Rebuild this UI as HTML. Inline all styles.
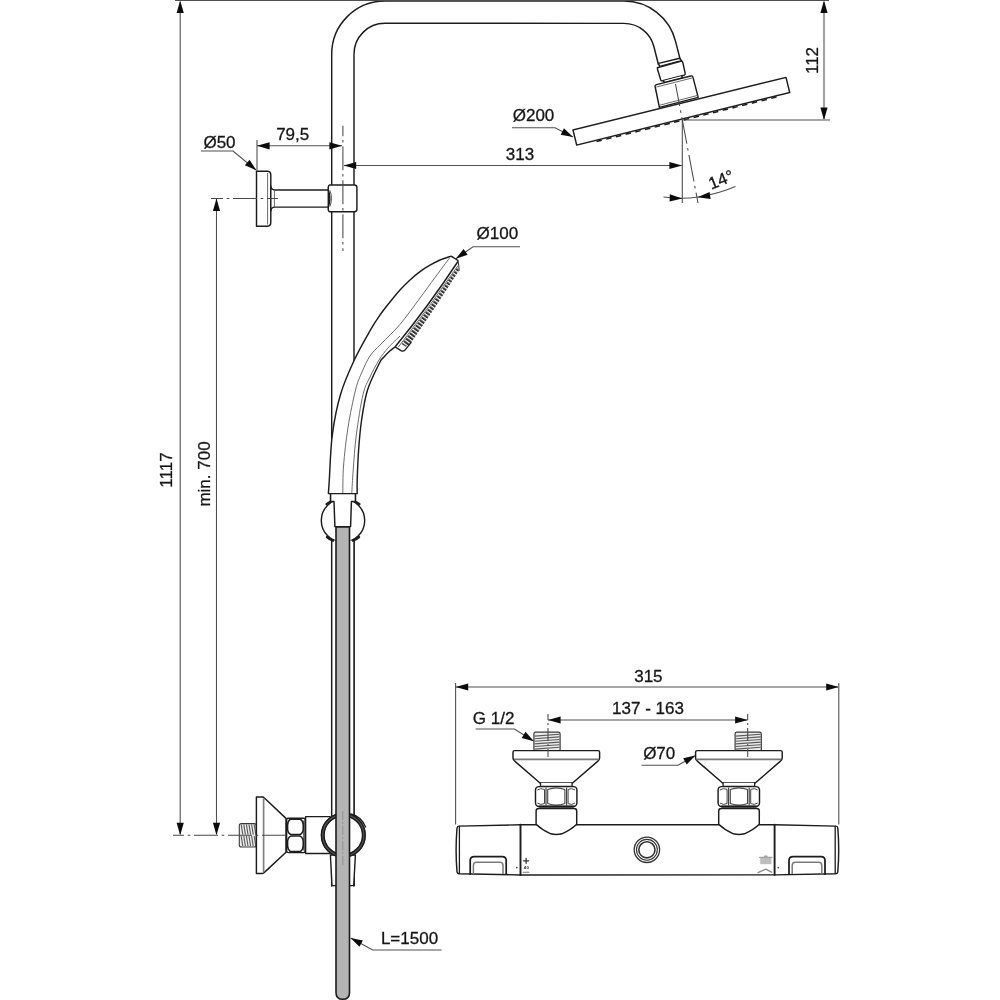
<!DOCTYPE html>
<html lang="en"><head><meta charset="utf-8"><title>Shower system dimensions</title>
<style>
html,body{margin:0;padding:0;background:#fff;}
body{width:1000px;height:1000px;overflow:hidden;}
svg{display:block;filter:blur(0.4px);}
text{font-family:"Liberation Sans",sans-serif;font-size:17px;fill:#161616;stroke:#161616;stroke-width:0.3px;}
.o{fill:none;stroke:#1c1c1c;stroke-width:1.45;stroke-linejoin:round;stroke-linecap:round;}
.f{fill:#fff;}
.d{fill:none;stroke:#505050;stroke-width:1.1;}
.t{fill:none;stroke:#5a5a5a;stroke-width:0.9;}
.c{fill:none;stroke:#484848;stroke-width:1.05;}
</style></head>
<body>
<svg width="1000" height="1000" viewBox="0 0 1000 1000">
<rect width="1000" height="1000" fill="#fff"/>
<path d="M 342.85,886 L 342.85,54.2 A 42 42 0 0 1 384.85,12.2 L 624,12.2 A 42 42 0 0 1 664.75,44.04 L 669.3,62" fill="none" stroke="#1c1c1c" stroke-width="23.75" />
<path d="M 342.85,886 L 342.85,54.2 A 42 42 0 0 1 384.85,12.2 L 624,12.2 A 42 42 0 0 1 664.75,44.04 L 669.3,62" fill="none" stroke="#fff" stroke-width="20.85" />
<path class="o f" d="M658.6,63.4 L679.6,58.2 L681.6,60.8 L659.6,66.4 Z" />
<path class="o f" d="M658,67.6 Q657,67 657.6,69.5 L660.6,79.6 Q661,81.2 662.6,80.8 L684,75.3 Q685.6,74.8 685.2,73.2 L682.8,62.6 Q682.4,60.8 680.6,61.3 Z" />
<path class="o f" d="M663.6,80.8 L664.2,82.6 L682.4,78 L681.8,76" />
<path class="o f" d="M656.6,84.6 Q654.6,85.2 655.2,87 L659.4,107.4 L698.2,97.4 L693,77.4 Q692.6,75.4 690.6,76 Z" />
<path class="t" d="M656.4,87 L692,78" />
<path class="t" d="M659,105.4 L697.6,95.4" />
<g transform="translate(573,130) rotate(-13.87)">
<rect class="o f" x="0" y="0" width="219.4" height="15.5"/>
<line x1="20" y1="16.8" x2="206" y2="16.8" stroke="#1c1c1c" stroke-width="1.5" stroke-dasharray="5.5 4.5"/>
</g>
<path class="o f" d="M256.5,171.3 L267.6,171.3 Q270.8,171.6 270.8,175 L270.8,222.6 Q270.8,226 267.6,226.3 L256.5,226.3 Z" />
<path class="t" d="M267.6,173 L267.6,224.6" />
<path class="o f" d="M270.8,186 Q271.4,189.9 274.6,189.9 L328.3,189.9 L328.3,207.1 L274.6,207.1 Q271.4,207.1 270.8,211 Z" />
<path class="t" d="M274.4,190 L274.4,207" />
<path class="t" d="M329.6,190 Q333.4,198.5 329.6,207" style="stroke:#555;stroke-width:1"/>
<path class="o f" d="M328.3,189.9 Q327.8,186 329.4,185 L354.4,185 Q356.9,185 356.9,187.5 L356.9,209.2 Q356.9,211.7 354.4,211.7 L329.4,211.7 Q327.8,210.8 328.3,207.1 Q331.4,198.5 328.3,189.9 Z" />
<path class="t" d="M329.8,190.4 Q333.2,198.5 329.8,206.6" style="stroke:#555;stroke-width:1"/>
<defs><pattern id="nz" width="3.3" height="24" patternUnits="userSpaceOnUse" patternTransform="rotate(-54) translate(0,0)"><rect width="3.3" height="24" fill="#fff"/><rect x="0" y="0" width="2.1" height="24" fill="#333"/></pattern></defs>
<path class="o f" d="M450.50,256.40 C448.75,257.00 443.42,258.53 440.00,260.00 C436.58,261.47 433.33,263.27 430.00,265.20 C426.67,267.13 423.33,269.13 420.00,271.60 C416.67,274.07 413.33,276.93 410.00,280.00 C406.67,283.07 403.33,286.33 400.00,290.00 C396.67,293.67 393.33,297.83 390.00,302.00 C386.67,306.17 383.30,310.27 380.00,315.00 C376.70,319.73 374.48,322.90 370.20,330.40 C365.92,337.90 359.25,349.32 354.30,360.00 C349.35,370.68 344.17,382.00 340.50,394.50 C336.83,407.00 334.17,420.75 332.30,435.00 C330.43,449.25 329.95,470.23 329.30,480.00 C328.65,489.77 328.55,491.33 328.40,493.60 L357.20,493.60 C357.20,491.33 356.97,487.27 357.20,480.00 C357.43,472.73 357.87,460.00 358.60,450.00 C359.33,440.00 360.12,430.00 361.60,420.00 C363.08,410.00 364.52,399.50 367.50,390.00 C370.48,380.50 376.75,368.50 379.50,363.00 C382.25,357.50 382.28,359.00 384.00,357.00 C385.72,355.00 387.93,352.70 389.80,351.00 C391.67,349.30 394.30,347.50 395.20,346.80 Q428.6,306 457.6,262 Q458.6,260.8 457.2,260 L452,256.6 Q451.2,256.2 450.5,256.4 Z" />
<path class="" d="M457.6,267 L459,270.6 L435,307.4 L409.8,344.4 L405.8,346.8 L401.6,344 L431,305 Z" style="fill:url(#nz);stroke:none"/>
<path class="o" d="M458.4,262.4 L459.2,270.4" style="stroke-width:1.1;stroke:#444"/>
<path class="o" d="M411,342.6 L405.8,349.2 Q403.8,352.2 401,350.6 L395.8,347.4" style="stroke-width:1.3"/>
<path class="t" d="M458,265.6 Q429.6,306.8 398.4,347" style="stroke:#555;stroke-width:0.9"/>
<path class="t" d="M449.80,257.60 C447.33,260.92 439.97,270.77 435.00,277.50 C430.03,284.23 425.83,290.18 420.00,298.00 C414.17,305.82 406.50,316.73 400.00,324.40 C393.50,332.07 386.00,338.73 381.00,344.00 C376.00,349.27 373.17,351.33 370.00,356.00 C366.83,360.67 364.42,366.33 362.00,372.00 C359.58,377.67 357.83,380.75 355.50,390.00 C353.17,399.25 349.98,415.00 348.00,427.50 C346.02,440.00 344.47,454.08 343.60,465.00 C342.73,475.92 342.93,488.33 342.80,493.00 " />
<path class="t" d="M400.00,336.00 C398.00,338.00 391.50,344.00 388.00,348.00 C384.50,352.00 382.00,355.17 379.00,360.00 C376.00,364.83 372.67,371.25 370.00,377.00 C367.33,382.75 365.28,384.83 363.00,394.50 C360.72,404.17 357.93,422.42 356.30,435.00 C354.67,447.58 353.95,460.33 353.20,470.00 C352.45,479.67 352.03,489.17 351.80,493.00 " />
<path class="o f" d="M330.6,493.6 L330.6,501.4 L355.4,501.4 L355.4,493.6" />
<circle class="o f" cx="343" cy="520.5" r="21.7"/>
<path class="o f" d="M329.6,501.4 L334,501.4 L334.9,526.6 L350.6,526.6 L351.4,501.4 L355.4,501.4 L355.4,493.6 L330.6,493.6 L330.6,501.4 Z" />
<rect x="331.7" y="540.5" width="22.3" height="345" fill="#fff" stroke="none"/>
<line class="o" x1="331.7" y1="540" x2="331.7" y2="886" />
<line class="o" x1="354" y1="540" x2="354" y2="886" />
<path class="o" d="M327,537 Q330,539.6 333,540.6" style="stroke-width:2.4"/>
<path class="o" d="M359,537 Q356,539.6 353,540.6" style="stroke-width:2.4"/>
<path class="o" d="M326.6,504.2 Q328.4,502.6 330,502" style="stroke-width:2.3"/>
<path class="o" d="M359.4,504.2 Q357.6,502.6 356,502" style="stroke-width:2.3"/>
<rect x="239.3" y="823.6" width="17" height="23.4" rx="2" fill="#ececec" stroke="#3a3a3a" stroke-width="1.1"/>
<line class="t" x1="241.2" y1="824.4" x2="242.79999999999998" y2="834.6" style="stroke:#5a5a5a;stroke-width:1.1"/>
<line class="t" x1="241.2" y1="836" x2="242.79999999999998" y2="846.2" style="stroke:#5a5a5a;stroke-width:1.1"/>
<line class="t" x1="243.79999999999998" y1="824.4" x2="245.39999999999998" y2="834.6" style="stroke:#5a5a5a;stroke-width:1.1"/>
<line class="t" x1="243.79999999999998" y1="836" x2="245.39999999999998" y2="846.2" style="stroke:#5a5a5a;stroke-width:1.1"/>
<line class="t" x1="246.39999999999998" y1="824.4" x2="247.99999999999997" y2="834.6" style="stroke:#5a5a5a;stroke-width:1.1"/>
<line class="t" x1="246.39999999999998" y1="836" x2="247.99999999999997" y2="846.2" style="stroke:#5a5a5a;stroke-width:1.1"/>
<line class="t" x1="249.0" y1="824.4" x2="250.6" y2="834.6" style="stroke:#5a5a5a;stroke-width:1.1"/>
<line class="t" x1="249.0" y1="836" x2="250.6" y2="846.2" style="stroke:#5a5a5a;stroke-width:1.1"/>
<line class="t" x1="251.6" y1="824.4" x2="253.2" y2="834.6" style="stroke:#5a5a5a;stroke-width:1.1"/>
<line class="t" x1="251.6" y1="836" x2="253.2" y2="846.2" style="stroke:#5a5a5a;stroke-width:1.1"/>
<line class="t" x1="254.2" y1="824.4" x2="255.79999999999998" y2="834.6" style="stroke:#5a5a5a;stroke-width:1.1"/>
<line class="t" x1="254.2" y1="836" x2="255.79999999999998" y2="846.2" style="stroke:#5a5a5a;stroke-width:1.1"/>
<path class="o f" d="M256.4,797 L262.4,797 Q263.6,797 264.4,798 L286,818.4 L286,852.2 L264.4,872.4 Q263.6,873.4 262.4,873.4 L256.4,873.4 Z" />
<line class="t" x1="263.6" y1="798.4" x2="263.6" y2="872.2" style="stroke:#808080;stroke-width:1.7"/>
<rect class="o f" x="286.6" y="818.2" width="18.6" height="34.4" rx="1.5"/>
<rect x="303" y="820.5" width="2.4" height="30" fill="#6a6a6a"/>
<path class="o" d="M290.4,819.2 Q287.6,821.4 287.6,825 L287.6,829 Q287.6,833 290.8,834.5 L300,834.5 Q303.2,833 303.2,829 L303.2,825 Q303.2,821.4 300.4,819.2 Z" style="stroke-width:1.5;fill:#fff"/>
<path class="o" d="M290.4,851.6 Q287.6,849.4 287.6,845.8 L287.6,841.8 Q287.6,837.8 290.8,836.1 L300,836.1 Q303.2,837.8 303.2,841.8 L303.2,845.8 Q303.2,849.4 300.4,851.6 Z" style="stroke-width:1.5;fill:#fff"/>
<path class="o f" d="M305.6,816.6 L330,816.6 L330,853.4 L305.6,853.4 Z" />
<path class="o f" d="M330.4,855 L332,885.6 L353.7,885.6 L355.4,855 Z" style="stroke-width:1.4"/>
<path class="o" d="M351,814 Q361,816.4 365.6,827" style="stroke-width:1.3"/>
<circle cx="343.3" cy="835.2" r="20.6" fill="#fff" stroke="#555" stroke-width="3.6"/>
<circle cx="343.3" cy="835.2" r="21.9" fill="none" stroke="#1c1c1c" stroke-width="1.5"/>
<circle cx="343.3" cy="835.2" r="19.3" fill="none" stroke="#1c1c1c" stroke-width="1.5"/>
<path d="M336,527 L336,992.4 Q336,999.2 342.8,999.2 Q349.5,999.2 349.5,992.4 L349.5,527 Z" fill="#b4b4b4" stroke="#1c1c1c" stroke-width="1.6"/>
<line class="t" x1="342.8" y1="811" x2="342.8" y2="866" style="stroke:#8e8e8e;stroke-dasharray:9 2 2 2"/>
<path class="o f" d="M459,826.1 L520.8,824.8 L774.9,824.8 L835.8,826.1 Q837.6,826.2 837.8,828 Q839.6,850 837.8,871.8 Q837.6,873.6 835.8,873.7 L774.9,874.9 L520.8,874.9 L459,873.7 Q457.2,873.6 457,871.8 Q455.2,850 457,828 Q457.2,826.2 459,826.1 Z" />
<line class="o" x1="520.5" y1="824.8" x2="520.5" y2="874.9" style="stroke-width:1.9"/>
<line class="o" x1="774.6" y1="824.8" x2="774.6" y2="874.9" style="stroke-width:1.9"/>
<line class="o" x1="459.4" y1="826.4" x2="459.4" y2="873.4" style="stroke-width:1.3"/>
<line class="o" x1="835.2" y1="826.4" x2="835.2" y2="873.4" style="stroke-width:1.3"/>
<rect x="533.9" y="732.2" width="26.2" height="19" rx="1.8" fill="#ececec" stroke="#3a3a3a" stroke-width="1.2"/>
<line class="t" x1="534.6" y1="736.1" x2="559.4" y2="734.3000000000001" style="stroke:#5a5a5a;stroke-width:1.1"/>
<line class="t" x1="534.6" y1="738.7" x2="559.4" y2="736.9000000000001" style="stroke:#5a5a5a;stroke-width:1.1"/>
<line class="t" x1="534.6" y1="741.3000000000001" x2="559.4" y2="739.5000000000001" style="stroke:#5a5a5a;stroke-width:1.1"/>
<line class="t" x1="534.6" y1="743.9" x2="559.4" y2="742.1" style="stroke:#5a5a5a;stroke-width:1.1"/>
<line class="t" x1="534.6" y1="746.5" x2="559.4" y2="744.7" style="stroke:#5a5a5a;stroke-width:1.1"/>
<line class="t" x1="534.6" y1="749.1" x2="559.4" y2="747.3000000000001" style="stroke:#5a5a5a;stroke-width:1.1"/>
<path class="o f" d="M514.5,750.6 L598.0999999999999,750.6 Q599.5999999999999,750.6 599.5999999999999,752.2 L599.5999999999999,758 Q599.5999999999999,760 597.5999999999999,761.4 L572.5999999999999,783 L540.0,783 L515.0,761.4 Q513.0,760 513.0,758 L513.0,752.2 Q513.0,750.6 514.5,750.6 Z" />
<line class="t" x1="514.0" y1="759.3" x2="598.5999999999999" y2="759.3" style="stroke:#777;stroke-width:1.8"/>
<path class="o f" d="M540.5,783 L540.5,786.4 L572.0999999999999,786.4 L572.0999999999999,783" style="stroke-width:1.3"/>
<rect class="o f" x="535.5" y="786.6" width="41.39999999999998" height="19.8" rx="3.5"/>
<path class="t" d="M546.0,787.4 L546.0,805.6 M566.5999999999999,787.4 L566.5999999999999,805.6" style="stroke:#444;stroke-width:1.2"/>
<path class="t" d="M547.6999999999999,789.6 Q556.3,786.2 564.9,789.6 L564.9,803.4 Q556.3,806.8 547.6999999999999,803.4 Z" style="stroke:#444;stroke-width:1.1"/>
<path class="t" d="M537.3,790 Q540.5,787.6 544.5,789.4 L544.5,803.6 Q540.5,805.4 537.3,803" style="stroke:#444;stroke-width:1"/>
<path class="t" d="M575.1,790 Q571.9,787.6 568.0999999999999,789.4 L568.0999999999999,803.6 Q571.9,805.4 575.1,803" style="stroke:#444;stroke-width:1"/>
<path class="o" d="M539.3,806.6 L573.3,806.6" style="stroke-width:2.2"/>
<path class="o f" d="M536.0999999999999,811 Q536.0999999999999,808.4 538.6999999999999,808.4 L574.0999999999999,808.4 Q576.6999999999999,808.4 576.6999999999999,811 L576.6999999999999,824.2 Q570.6999999999999,830 561.8,833.8 Q556.3,835.4 550.8,833.8 Q542.0999999999999,830 536.0999999999999,824.2 Z" />
<rect x="735.0999999999999" y="732.2" width="26.2" height="19" rx="1.8" fill="#ececec" stroke="#3a3a3a" stroke-width="1.2"/>
<line class="t" x1="735.8" y1="736.1" x2="760.5999999999999" y2="734.3000000000001" style="stroke:#5a5a5a;stroke-width:1.1"/>
<line class="t" x1="735.8" y1="738.7" x2="760.5999999999999" y2="736.9000000000001" style="stroke:#5a5a5a;stroke-width:1.1"/>
<line class="t" x1="735.8" y1="741.3000000000001" x2="760.5999999999999" y2="739.5000000000001" style="stroke:#5a5a5a;stroke-width:1.1"/>
<line class="t" x1="735.8" y1="743.9" x2="760.5999999999999" y2="742.1" style="stroke:#5a5a5a;stroke-width:1.1"/>
<line class="t" x1="735.8" y1="746.5" x2="760.5999999999999" y2="744.7" style="stroke:#5a5a5a;stroke-width:1.1"/>
<line class="t" x1="735.8" y1="749.1" x2="760.5999999999999" y2="747.3000000000001" style="stroke:#5a5a5a;stroke-width:1.1"/>
<path class="o f" d="M697.1,750.6 L780.6999999999999,750.6 Q782.1999999999999,750.6 782.1999999999999,752.2 L782.1999999999999,758 Q782.1999999999999,760 780.1999999999999,761.4 L755.1999999999999,783 L722.6,783 L697.6,761.4 Q695.6,760 695.6,758 L695.6,752.2 Q695.6,750.6 697.1,750.6 Z" />
<line class="t" x1="696.6" y1="759.3" x2="781.1999999999999" y2="759.3" style="stroke:#777;stroke-width:1.8"/>
<path class="o f" d="M723.1,783 L723.1,786.4 L754.6999999999999,786.4 L754.6999999999999,783" style="stroke-width:1.3"/>
<rect class="o f" x="718.1" y="786.6" width="41.39999999999998" height="19.8" rx="3.5"/>
<path class="t" d="M728.6,787.4 L728.6,805.6 M749.1999999999999,787.4 L749.1999999999999,805.6" style="stroke:#444;stroke-width:1.2"/>
<path class="t" d="M730.3,789.6 Q738.9,786.2 747.5,789.6 L747.5,803.4 Q738.9,806.8 730.3,803.4 Z" style="stroke:#444;stroke-width:1.1"/>
<path class="t" d="M719.9,790 Q723.1,787.6 727.1,789.4 L727.1,803.6 Q723.1,805.4 719.9,803" style="stroke:#444;stroke-width:1"/>
<path class="t" d="M757.7,790 Q754.5,787.6 750.6999999999999,789.4 L750.6999999999999,803.6 Q754.5,805.4 757.7,803" style="stroke:#444;stroke-width:1"/>
<path class="o" d="M721.9,806.6 L755.9,806.6" style="stroke-width:2.2"/>
<path class="o f" d="M718.6999999999999,811 Q718.6999999999999,808.4 721.3,808.4 L756.6999999999999,808.4 Q759.3,808.4 759.3,811 L759.3,824.2 Q753.3,830 744.4,833.8 Q738.9,835.4 733.4,833.8 Q724.6999999999999,830 718.6999999999999,824.2 Z" />
<path class="o" d="M470.2,874.2 L470.2,860.6 Q470.2,856.6 474.2,856.6 L502.2,856.6 Q506.2,856.6 506.2,860.6 L506.2,874.2" style="stroke-width:1.75"/>
<path class="t" d="M473.4,874 L473.4,865.4 Q473.4,862.2 476.59999999999997,862.2 L499.8,862.2 Q503.0,862.2 503.0,865.4 L503.0,874" style="stroke:#7a7a7a;stroke-width:1.5"/>
<path class="o" d="M789,874.2 L789,860.6 Q789,856.6 793,856.6 L821,856.6 Q825,856.6 825,860.6 L825,874.2" style="stroke-width:1.75"/>
<path class="t" d="M792.2,874 L792.2,865.4 Q792.2,862.2 795.4,862.2 L818.6,862.2 Q821.8,862.2 821.8,865.4 L821.8,874" style="stroke:#7a7a7a;stroke-width:1.5"/>
<circle cx="646.9" cy="849.8" r="12.7" fill="none" stroke="#333" stroke-width="1.3"/>
<circle cx="646.9" cy="849.8" r="10.4" fill="none" stroke="#333" stroke-width="1.1"/>
<circle cx="646.9" cy="849.8" r="8.1" fill="none" stroke="#333" stroke-width="1.6"/>
<path class="o" d="M523.6,860.8 L528.6,860.8 M526.1,858.3 L526.1,863.3" style="stroke-width:1.3;stroke:#333"/>
<text x="526.4" y="869" text-anchor="middle" style="font-size:4.3px;font-weight:bold;fill:#2a2a2a;stroke:none;letter-spacing:0.3px">40</text>
<path class="o" d="M523.2,872.3 L528.8,872.3" style="stroke-width:1.1;stroke:#7a7a7a"/>
<circle cx="516.8" cy="867.6" r="0.9" fill="#444"/>
<rect x="760.2" y="857.6" width="11.2" height="6.6" fill="#bdbdbd"/>
<path class="o" d="M759.6,857.4 L772,857.4 M764.6,856.2 L767,856.2" style="stroke-width:1.2;stroke:#a2a2a2"/>
<path class="o" d="M758,872.6 L765.8,869.2 L771.6,872.2" style="stroke-width:1.3;stroke:#8c8c8c"/>
<circle cx="778.3" cy="867.6" r="0.9" fill="#444"/>
<g id="dims">
<line class="d" x1="175" y1="0.5" x2="829" y2="0.5" />
<line class="d" x1="180.2" y1="2" x2="180.2" y2="834" />
<polygon points="180.20,0.50 183.80,13.10 176.60,13.10" fill="#0c0c0c"/>
<polygon points="180.20,835.30 176.60,822.70 183.80,822.70" fill="#0c0c0c"/>
<text x="172.4" y="470" text-anchor="middle" transform="rotate(-90 172.4 470)">1117</text>
<line class="d" x1="216.5" y1="199" x2="216.5" y2="834" />
<polygon points="216.50,198.40 220.10,211.00 212.90,211.00" fill="#0c0c0c"/>
<polygon points="216.50,835.30 212.90,822.70 220.10,822.70" fill="#0c0c0c"/>
<text x="209.8" y="474" text-anchor="middle" transform="rotate(-90 209.8 474)">min. 700</text>
<line class="c" x1="211" y1="198.4" x2="278" y2="198.4" style="stroke-dasharray:24 3.7 2.6 3.7;stroke-dashoffset:12"/>
<line class="c" x1="173" y1="835.3" x2="288" y2="835.3" style="stroke-dasharray:24 3.7 2.6 3.7;stroke-dashoffset:13"/>
<line class="d" x1="257" y1="140" x2="257" y2="171" />
<line class="d" x1="257" y1="145.8" x2="342" y2="145.8" />
<polygon points="257.00,145.80 269.60,142.20 269.60,149.40" fill="#0c0c0c"/>
<polygon points="342.00,145.80 329.40,149.40 329.40,142.20" fill="#0c0c0c"/>
<text x="292.7" y="140" text-anchor="middle">79,5</text>
<path class="d" d="M201,151 L233,151 L256,170" />
<polygon points="256.30,170.30 244.88,165.14 249.61,159.71" fill="#0c0c0c"/>
<text x="219.5" y="148" text-anchor="middle">Ø50</text>
<line class="d" x1="344" y1="165.5" x2="682" y2="165.5" />
<polygon points="343.60,165.50 356.20,161.90 356.20,169.10" fill="#0c0c0c"/>
<polygon points="682.00,165.50 669.40,169.10 669.40,161.90" fill="#0c0c0c"/>
<text x="520" y="160.1" text-anchor="middle">313</text>
<line class="d" x1="824" y1="2" x2="824" y2="119" />
<polygon points="824.00,0.50 827.60,13.10 820.40,13.10" fill="#0c0c0c"/>
<polygon points="824.00,120.00 820.40,107.40 827.60,107.40" fill="#0c0c0c"/>
<line class="d" x1="683" y1="120" x2="830" y2="120" />
<text x="818" y="60.5" text-anchor="middle" transform="rotate(-90 818 60.5)">112</text>
<path class="d" d="M512,127.8 L555,127.8 L573,137" />
<polygon points="573.00,137.00 560.67,134.76 563.94,128.34" fill="#0c0c0c"/>
<text x="533.5" y="120.8" text-anchor="middle">Ø200</text>
<line class="d" x1="682.3" y1="119.5" x2="682.3" y2="203" />
<line class="c" x1="675.5" y1="84" x2="698" y2="203" style="stroke-dasharray:27 4.4 2.6 4.4;stroke-dashoffset:4.6"/>
<path class="d" d="M663.5,197 Q683,199.4 698,197" />
<path class="d" d="M698,197 Q718,194 735.5,186.5" />
<polygon points="682.30,198.40 669.58,201.56 669.83,194.36" fill="#0c0c0c"/>
<polygon points="697.60,197.20 709.58,191.88 710.58,199.01" fill="#0c0c0c"/>
<text x="723.2" y="185" text-anchor="middle" transform="rotate(-21.5 723.2 185)">14°</text>
<line class="c" x1="342.9" y1="125.75" x2="342.9" y2="251" style="stroke-dasharray:24 3.7 2.6 3.7;stroke-dashoffset:13.5"/>
<path class="d" d="M520,246.8 L473,246.8 L455.8,258.8" />
<polygon points="455.80,258.80 463.56,248.97 467.69,254.87" fill="#0c0c0c"/>
<text x="497.3" y="239.3" text-anchor="middle">Ø100</text>
<path class="d" d="M441.6,950 L372.8,950 L350.6,938" />
<polygon points="350.60,938.00 362.87,940.54 359.44,946.87" fill="#0c0c0c"/>
<text x="409.5" y="944" text-anchor="middle">L=1500</text>
<line class="d" x1="455.6" y1="683" x2="455.6" y2="824.4" />
<line class="d" x1="838.8" y1="683" x2="838.8" y2="824.4" />
<line class="d" x1="456" y1="687" x2="838" y2="687" />
<polygon points="455.60,687.00 468.20,683.40 468.20,690.60" fill="#0c0c0c"/>
<polygon points="838.80,687.00 826.20,690.60 826.20,683.40" fill="#0c0c0c"/>
<text x="648.4" y="682" text-anchor="middle">315</text>
<line class="d" x1="548" y1="720" x2="747.7" y2="720" />
<polygon points="548.00,720.00 560.60,716.40 560.60,723.60" fill="#0c0c0c"/>
<polygon points="747.70,720.00 735.10,723.60 735.10,716.40" fill="#0c0c0c"/>
<text x="648" y="713.8" text-anchor="middle">137 - 163</text>
<path class="d" d="M475.6,729 L514.4,729 L533.6,741" />
<polygon points="533.80,741.20 521.72,737.89 525.53,731.79" fill="#0c0c0c"/>
<text x="493.6" y="723.6" text-anchor="middle">G 1/2</text>
<path class="d" d="M641.6,765.3 L678,765.3 L695,755.7" />
<polygon points="695.40,755.50 686.73,764.54 683.18,758.28" fill="#0c0c0c"/>
<text x="659.2" y="759.3" text-anchor="middle">Ø70</text>
<line class="c" x1="548" y1="714" x2="548" y2="757" style="stroke-dasharray:13 3 2 3;stroke-dashoffset:7"/>
<line class="c" x1="747.7" y1="714" x2="747.7" y2="757" style="stroke-dasharray:13 3 2 3;stroke-dashoffset:7"/>
</g>
</svg>
</body></html>
